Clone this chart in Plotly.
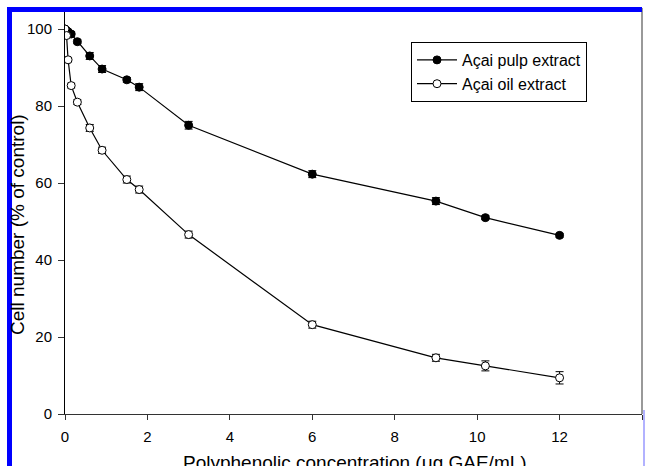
import plotly.graph_objects as go

# Data
pulp_x = [0, 0.0375, 0.075, 0.15, 0.3, 0.6, 0.9, 1.5, 1.8, 3, 6, 9, 10.2, 12]
pulp_y = [100, 99.6, 99.3, 98.7, 96.7, 93.0, 89.6, 86.8, 84.9, 75.0, 62.3, 55.3, 51.0, 46.4]
pulp_err = [0.3, 0.4, 0.4, 0.5, 0.5, 0.9, 0.9, 0.6, 0.9, 1.0, 0.9, 0.9, 0.5, 0.5]

oil_x = [0, 0.0375, 0.075, 0.15, 0.3, 0.6, 0.9, 1.5, 1.8, 3, 6, 9, 10.2, 12]
oil_y = [100, 98.3, 92.0, 85.3, 81.0, 74.3, 68.5, 60.9, 58.3, 46.6, 23.2, 14.6, 12.5, 9.4]
oil_err = [0.3, 0.5, 0.5, 0.6, 0.6, 0.9, 0.8, 0.9, 0.9, 0.9, 0.9, 0.9, 1.3, 1.6]

x_ticks = [0, 2, 4, 6, 8, 10, 12, 14]
y_ticks = [0, 20, 40, 60, 80, 100]

FONT = "Arial, Liberation Sans, sans-serif"

fig = go.Figure()
fig.add_trace(go.Scatter(
    x=pulp_x, y=pulp_y, name="Açai pulp extract", mode="lines+markers",
    line=dict(color="black", width=1.2),
    marker=dict(symbol="circle", size=8, color="black", line=dict(color="black", width=1)),
    error_y=dict(type="data", array=pulp_err, color="black", thickness=1, width=4),
))
fig.add_trace(go.Scatter(
    x=oil_x, y=oil_y, name="Açai oil extract", mode="lines+markers",
    line=dict(color="black", width=1.2),
    marker=dict(symbol="circle", size=8, color="white", line=dict(color="black", width=1)),
    error_y=dict(type="data", array=oil_err, color="black", thickness=1, width=4),
))

W, H = 645, 466
L, R, T, B = 65, 3, 8, 52
pw = W - L - R
ph = H - T - B

fig.update_layout(
    width=W, height=H,
    margin=dict(l=L, r=R, t=T, b=B),
    paper_bgcolor="white", plot_bgcolor="white",
    font=dict(family=FONT, color="black"),
    showlegend=True,
    legend=dict(
        x=(411 - L) / pw, y=(H - B - 42) / ph, xanchor="left", yanchor="top",
        bordercolor="black", borderwidth=1, bgcolor="white",
        font=dict(family=FONT, size=16, color="black"),
        tracegroupgap=0, itemwidth=40,
    ),
    xaxis=dict(
        range=[0, 14], tickvals=x_ticks, ticktext=[str(v) for v in x_ticks],
        showgrid=False, zeroline=False, showline=True, linecolor="#333", linewidth=1,
        ticks="outside", ticklen=5, tickcolor="#333", ticklabelstandoff=4,
        tickfont=dict(family=FONT, size=15, color="black"),
    ),
    yaxis=dict(
        range=[0, (H - B - T) / 3.85], tickvals=y_ticks, ticktext=[str(v) for v in y_ticks],
        showgrid=False, zeroline=False, showline=True, linecolor="black", linewidth=1,
        ticks="outside", ticklen=6, tickcolor="#333", ticklabelstandoff=3,
        tickfont=dict(family=FONT, size=15, color="black"),
    ),
    annotations=[
        dict(text="Polyphenolic concentration (μg GAE/mL)", xref="paper", yref="paper",
             x=(355 - L) / pw, y=-(450 - (H - B)) / ph, xanchor="center", yanchor="top",
             showarrow=False, font=dict(family=FONT, size=19, color="black")),
        dict(text="Cell number (% of control)", xref="paper", yref="paper",
             x=(17 - L) / pw, y=(H - B - 225) / ph, xanchor="center", yanchor="middle",
             textangle=-90, showarrow=False, font=dict(family=FONT, size=19, color="black")),
    ],
    shapes=[
        # right frame line
        dict(type="line", xref="paper", yref="paper", x0=1, x1=1, y0=0, y1=1,
             line=dict(color="#555", width=1.2)),
        # blue border (left, top)
        dict(type="rect", xref="paper", yref="paper",
             x0=(7 - L) / pw, x1=(12 - L) / pw, y0=-(H - (H - B)) / ph, y1=(H - B - 7) / ph,
             fillcolor="#0000FF", line=dict(width=0), layer="above"),
        dict(type="rect", xref="paper", yref="paper",
             x0=(7 - L) / pw, x1=(642 - L) / pw, y0=(H - B - 12) / ph, y1=(H - B - 7) / ph,
             fillcolor="#0000FF", line=dict(width=0), layer="above"),
        dict(type="line", xref="paper", yref="paper",
             x0=(644 - L) / pw, x1=(644 - L) / pw, y0=-(H - (H - B)) / ph, y1=(H - B - 410) / ph,
             line=dict(color="#9999FF", width=1.5), layer="above"),
    ],
)

fig.write_html("out.html", config={"displayModeBar": False},
               post_script="document.body.style.margin='0';document.body.style.overflow='hidden';")
